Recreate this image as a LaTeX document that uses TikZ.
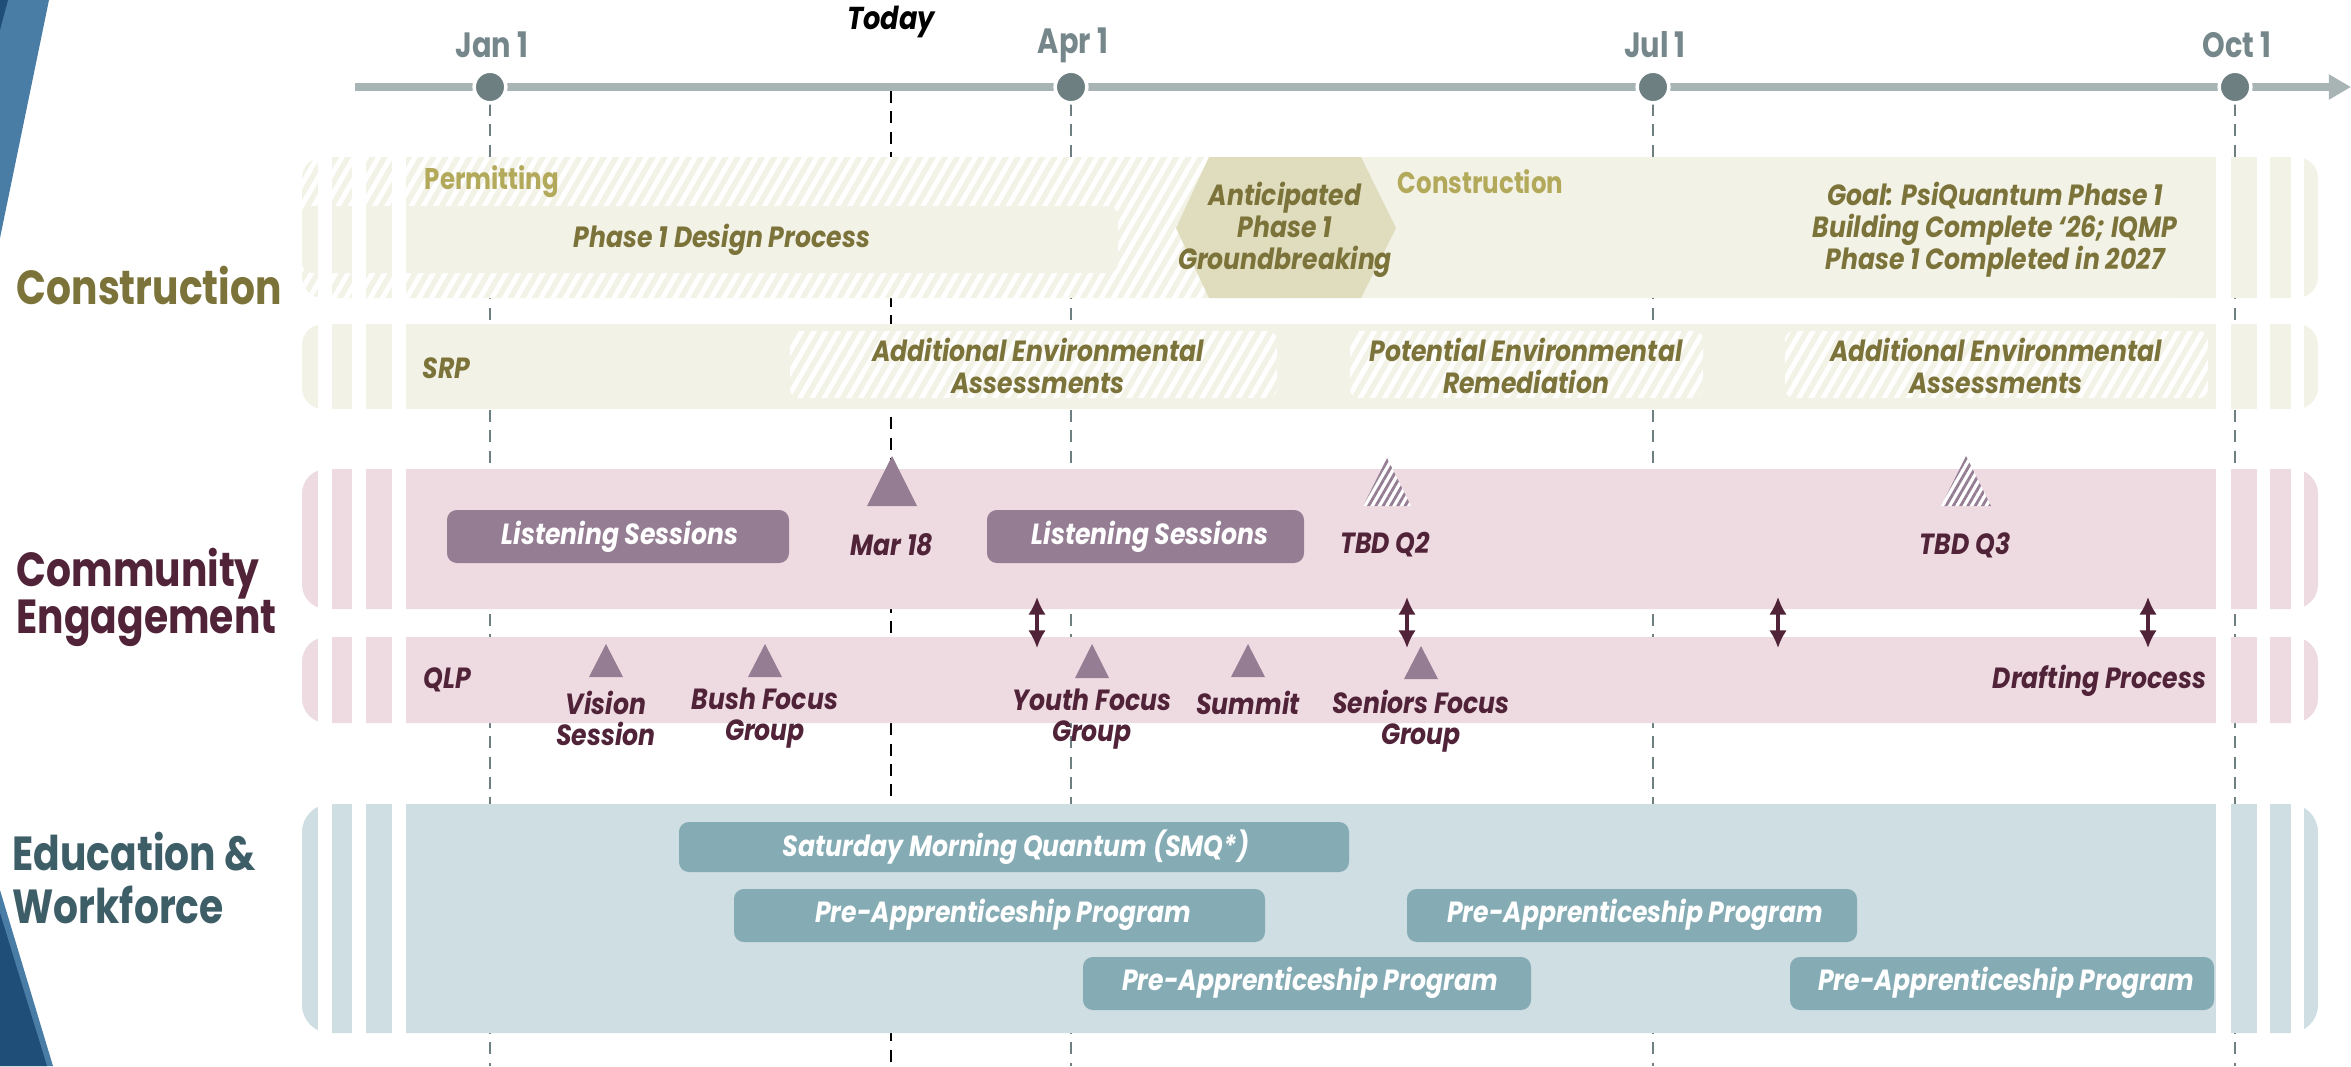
\documentclass[tikz,border=0pt]{standalone}
\usepackage{fontspec}
\setmainfont{Poppins}
\newfontfamily\cgHead[FakeStretch=0.82]{Poppins}
\newfontfamily\cgIt[FakeStretch=0.86]{Poppins}
\usetikzlibrary{patterns.meta,arrows.meta}
\definecolor{cOl}{HTML}{7B7339}
\definecolor{cOlL}{HTML}{B3A95B}
\definecolor{cBandC}{HTML}{F3F2E6}
\definecolor{cHex}{HTML}{E0DDBF}
\definecolor{cPl}{HTML}{512338}
\definecolor{cBandP}{HTML}{EEDBE2}
\definecolor{cBoxP}{HTML}{957D93}
\definecolor{cTe}{HTML}{3E5E67}
\definecolor{cBandE}{HTML}{CFDEE3}
\definecolor{cBoxE}{HTML}{85ACB5}
\definecolor{cAxis}{HTML}{A8B3B4}
\definecolor{cTick}{HTML}{6D7F81}
\definecolor{cDate}{HTML}{75878A}
\definecolor{cBlueL}{HTML}{4A7DA6}
\definecolor{cBlueD}{HTML}{1F4E79}
\newcommand{\gapset}[2]{\foreach \ga/\gb in {318/332,352/366,392/406,2216/2231,2257/2270,2291/2304} {\fill[white] (\ga,#1) rectangle (\gb,#2);}}
\newcommand{\tri}[5]{\fill[#5] (#1-#4,#3) -- (#1,#2) -- (#1+#4,#3) -- cycle;}
\begin{document}
\begin{tikzpicture}[x=0.01cm,y=-0.01cm,
  dashline/.style={cTick, line width=0.7pt, dash pattern=on 3.4pt off 2.4pt},
  todayline/.style={black, line width=0.8pt, dash pattern=on 3.4pt off 2.4pt},
  tickdot/.style={circle, fill=cTick, draw=white, line width=1pt, minimum size=9pt, inner sep=0pt},
  datelbl/.style={font=\cgHead\bfseries\fontsize{10}{12}\selectfont, text=cDate, inner sep=0pt},
  head/.style={font=\cgHead\bfseries\fontsize{13.6}{13.4}\selectfont, inner sep=0pt, anchor=west, align=left},
  itl/.style={font=\cgIt\bfseries\itshape\fontsize{8.3}{9.1}\selectfont, inner sep=0pt, align=center},
  sublbl/.style={font=\cgHead\bfseries\fontsize{8.5}{10}\selectfont, text=cOlL, inner sep=0pt, anchor=west},
  hatchW/.style={pattern={Lines[angle=60,distance=3pt,line width=1.4pt]}, pattern color=white},
  hatchP/.style={pattern={Lines[angle=60,distance=1.8pt,line width=0.8pt]}, pattern color=cBoxP},
  dbl/.style={cPl, line width=0.9pt, {Latex[length=5pt,width=5pt]}-{Latex[length=5pt,width=5pt]}},
]
\useasboundingbox (0,0) rectangle (2351,1066);
% left decorations
\fill[cBlueL] (0,0) -- (49,0) -- (0,238) -- cycle;
\fill[cBlueD] (0,0) -- (8,0) -- (0,30) -- cycle;
\fill[cBlueL] (0,890) -- (53,1066) -- (0,1066) -- cycle;
\fill[cBlueD] (0,913) -- (47,1066) -- (0,1066) -- cycle;
% grid coordinates
\coordinate (bot) at (0,1066);
\coordinate (c1) at (490,87);
\coordinate (c2) at (1071,87);
\coordinate (c3) at (1653,87);
\coordinate (c4) at (2235,87);
\coordinate (ctoday) at (891,91);
\foreach \c in {c1,c2,c3,c4} {\draw[dashline] ([yshift=-4.8pt]\c) -- (\c |- bot);}
\draw[todayline] (ctoday) -- (ctoday |- bot);
% ===== Construction band =====
\fill[cBandC, rounded corners=6pt] (302,157) rectangle (1300,298);
\fill[hatchW, rounded corners=6pt] (302,157) rectangle (1300,298);
\fill[cBandC] (1212,157) rectangle (2250,298);
\fill[cBandC, rounded corners=6pt] (2150,157) rectangle (2318,298);
\fill[cBandC, rounded corners=2.8pt] (302,206) rectangle (1118,273);
\gapset{150}{305}
\fill[cHex] (1176,228) -- (1209,157) -- (1361,157) -- (1396,228) -- (1361,298) -- (1209,298) -- cycle;
% SRP band
\fill[cBandC, rounded corners=6pt] (302,324) rectangle (2318,409);
\gapset{318}{415}
\foreach \ga/\gb in {790/1277,1350/1703,1785/2208} {
  \fill[cBandC, rounded corners=2.6pt] (\ga,331) rectangle (\gb,398);
  \fill[hatchW, rounded corners=2.6pt] (\ga,331) rectangle (\gb,398);}
% ===== Community bands =====
\fill[cBandP, rounded corners=7pt] (302,469) rectangle (2318,609);
\gapset{463}{615}
\fill[cBandP, rounded corners=7pt] (302,637) rectangle (2318,723);
\gapset{631}{729}
% ===== Education band =====
\fill[cBandE, rounded corners=8pt] (302,804) rectangle (2318,1033);
\gapset{798}{1039}
% ===== Axis =====
\coordinate (axS) at (355,87);
\coordinate (axE) at (2351,87);
\draw[cAxis, line width=2pt, -{Triangle[length=6.3pt,width=6.8pt]}] (axS) -- (axE);
\node[tickdot] (t1) at (c1) {};
\node[tickdot] (t2) at (c2) {};
\node[tickdot] (t3) at (c3) {};
\node[tickdot] (t4) at (c4) {};
\node[datelbl] (d1) at (492,45) {Jan 1};
\node[datelbl] (d2) at (1073,45) {Apr 1};
\node[datelbl] (d3) at (1655,45) {Jul 1};
\node[datelbl] (d4) at (2237,45) {Oct 1};
\node[font=\cgIt\bfseries\itshape\fontsize{9}{11}\selectfont, inner sep=0pt] (today) at (891,22) {Today};
% ===== Headings =====
\node[head, text=cOl] (hC) at (16,286) {Construction};
\node[head, text=cPl] (hCE) at (16,597) {Community\\Engagement};
\node[head, text=cTe, font=\cgHead\bfseries\fontsize{13.6}{15}\selectfont] (hEW) at (12,878) {Education \&\\Workforce};
% ===== Construction texts =====
\node[sublbl] (perm) at (424,182) {Permitting};
\node[sublbl] (constr) at (1397,182) {Construction};
\node[itl, text=cOl] (p1d) at (722,240) {Phase 1 Design Process};
\node[itl, text=cOl] (hexT) at (1285,230) {Anticipated\\Phase 1\\Groundbreaking};
\node[itl, text=cOl] (goal) at (1995,230) {Goal: PsiQuantum Phase 1\\Building Complete ‘26; IQMP\\Phase 1 Completed in 2027};
\node[itl, text=cOl, anchor=west] (srp) at (422,368) {SRP};
\node[itl, text=cOl] (aea1) at (1038,366) {Additional Environmental\\Assessments};
\node[itl, text=cOl] (per) at (1526,366) {Potential Environmental\\Remediation};
\node[itl, text=cOl] (aea2) at (1996,366) {Additional Environmental\\Assessments};
% ===== Community items =====
\fill[cBoxP, rounded corners=2.8pt] (447,510) rectangle (789,563);
\node[itl, text=white] (ls1) at (620,537) {Listening Sessions};
\fill[cBoxP, rounded corners=2.8pt] (987,510) rectangle (1304,563);
\node[itl, text=white] (ls2) at (1150,537) {Listening Sessions};
\tri{892}{456}{506}{25}{cBoxP}
\node[itl, text=cPl] (m18) at (892,545) {Mar 18};
\tri{1387}{458}{506}{24}{white}
\tri{1387}{458}{506}{24}{hatchP}
\node[itl, text=cPl] (tq2) at (1385,545) {TBD Q2};
\tri{1966}{456}{506}{25}{white}
\tri{1966}{456}{506}{25}{hatchP}
\node[itl, text=cPl] (tq3) at (1965,545) {TBD Q3};
\node[itl, text=cPl, anchor=west] (qlp) at (423,680) {QLP};
\tri{606}{644}{677}{17}{cBoxP}
\tri{765}{644}{677}{17}{cBoxP}
\tri{1092}{644}{678}{17}{cBoxP}
\tri{1248}{644}{677}{17}{cBoxP}
\tri{1421}{646}{679}{17}{cBoxP}
\node[itl, text=cPl, font=\cgIt\bfseries\itshape\fontsize{8.3}{8.8}\selectfont] (vis) at (606,718) {Vision\\Session};
\node[itl, text=cPl, font=\cgIt\bfseries\itshape\fontsize{8.3}{8.8}\selectfont] (bush) at (765,718) {Bush Focus\\Group};
\node[itl, text=cPl, font=\cgIt\bfseries\itshape\fontsize{8.3}{8.8}\selectfont] (youth) at (1092,719) {Youth Focus\\Group};
\node[itl, text=cPl] (summit) at (1248,703) {Summit};
\node[itl, text=cPl, font=\cgIt\bfseries\itshape\fontsize{8.3}{8.8}\selectfont] (sen) at (1421,721) {Seniors Focus\\Group};
\node[itl, text=cPl, anchor=east] (draft) at (2207,681) {Drafting Process};
\foreach \i/\xx in {1/1037,2/1407,3/1778,4/2148} {
  \coordinate (a\i t) at (\xx,597);
  \coordinate (a\i b) at (\xx,648);
  \draw[dbl] (a\i t) -- (a\i b);}
% ===== Education bars =====
\fill[cBoxE, rounded corners=2.8pt] (679,822) rectangle (1349,872);
\node[itl, text=white] (smq) at (1016,847) {Saturday Morning Quantum (SMQ*)};
\fill[cBoxE, rounded corners=2.8pt] (734,889) rectangle (1265,942);
\node[itl, text=white] (pa1) at (1003,915) {Pre-Apprenticeship Program};
\fill[cBoxE, rounded corners=2.8pt] (1407,889) rectangle (1857,942);
\node[itl, text=white] (pa2) at (1635,915) {Pre-Apprenticeship Program};
\fill[cBoxE, rounded corners=2.8pt] (1083,957) rectangle (1531,1010);
\node[itl, text=white] (pa3) at (1310,983) {Pre-Apprenticeship Program};
\fill[cBoxE, rounded corners=2.8pt] (1790,957) rectangle (2214,1010);
\node[itl, text=white] (pa4) at (2006,983) {Pre-Apprenticeship Program};
\end{tikzpicture}
\end{document}
